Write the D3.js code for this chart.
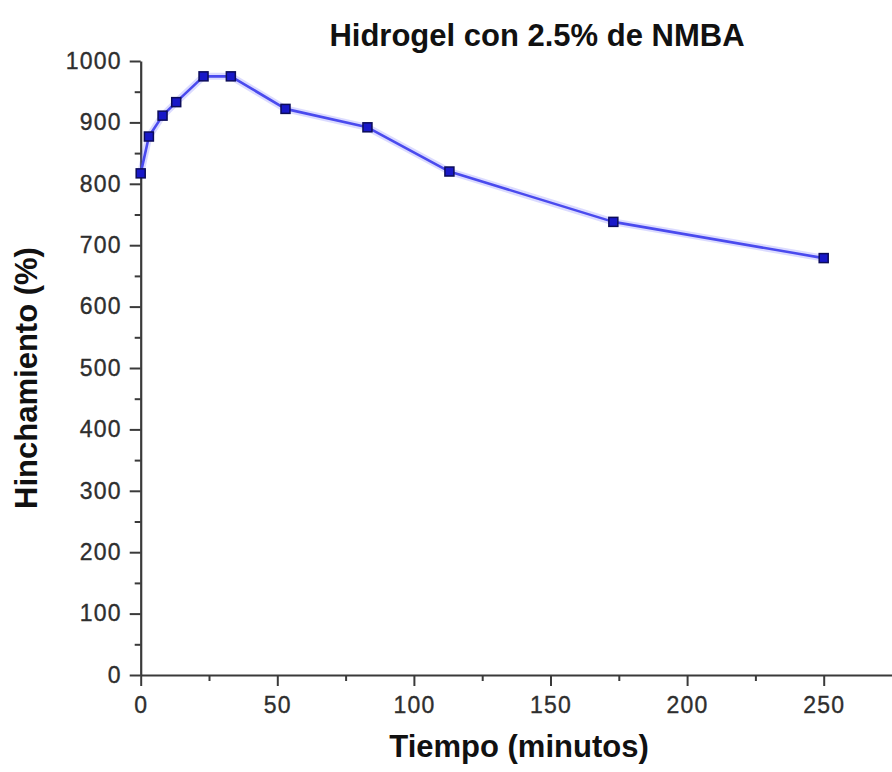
<!DOCTYPE html>
<html>
<head>
<meta charset="utf-8">
<script src="https://cdn.jsdelivr.net/npm/d3@7"></script>
<style>
  html, body { margin: 0; padding: 0; background: #fff; }
  svg { display: block; }
</style>
</head>
<body>
<svg id="chart" width="892" height="772"></svg>
<script>
const title = "Hidrogel con 2.5% de NMBA";
const xLabel = "Tiempo (minutos)";
const yLabel = "Hinchamiento (%)";
const tiempo = [0, 3, 8, 13, 23, 33, 53, 83, 113, 173, 250];
const hinchamiento = [817, 877, 911, 933, 975, 975, 922, 892, 820, 738, 679];
const xTicks = [0, 50, 100, 150, 200, 250];
const yTicks = [0, 100, 200, 300, 400, 500, 600, 700, 800, 900, 1000];

const svg = d3.select("#chart");
const margin = { left: 140.7, top: 61, bottom: 675, right: 892 };

const x = d3.scaleLinear().domain([0, 275]).range([margin.left, margin.right]);
const y = d3.scaleLinear().domain([0, 1000]).range([margin.bottom, margin.top]);

const axisColor = "#3a3a3a";
const labelColor = "#2e2e2e";

const xMinor = d3.range(25, 275, 50);
const yMinor = d3.range(50, 1000, 100);

function styleLabels(sel) {
  sel.attr("fill", labelColor).attr("stroke", labelColor).attr("stroke-width", 0.35)
    .style("font-family", "'Liberation Sans', Arial, sans-serif")
    .style("font-size", "23px").style("letter-spacing", "1.2px");
}

// X axis
const gx = svg.append("g").attr("transform", `translate(0,${margin.bottom})`)
  .call(d3.axisBottom(x).tickValues(xTicks).tickSize(11).tickSizeOuter(0).tickPadding(11).tickFormat(d3.format("d")));
gx.select(".domain").attr("stroke", axisColor).attr("stroke-width", 2.2);
gx.selectAll(".tick line").attr("stroke", axisColor).attr("stroke-width", 2);
styleLabels(gx.selectAll(".tick text"));
const gxm = svg.append("g").attr("transform", `translate(0,${margin.bottom})`)
  .call(d3.axisBottom(x).tickValues(xMinor).tickSize(6).tickFormat(""));
gxm.select(".domain").remove();
gxm.selectAll(".tick line").attr("stroke", axisColor).attr("stroke-width", 2);

// Y axis
const gy = svg.append("g").attr("transform", `translate(${margin.left},0)`)
  .call(d3.axisLeft(y).tickValues(yTicks).tickSize(11).tickSizeOuter(0).tickPadding(8).tickFormat(d3.format("d")));
gy.select(".domain").attr("stroke", axisColor).attr("stroke-width", 2.2);
gy.selectAll(".tick line").attr("stroke", axisColor).attr("stroke-width", 2);
styleLabels(gy.selectAll(".tick text"));
const gym = svg.append("g").attr("transform", `translate(${margin.left},0)`)
  .call(d3.axisLeft(y).tickValues(yMinor).tickSize(6).tickFormat(""));
gym.select(".domain").remove();
gym.selectAll(".tick line").attr("stroke", axisColor).attr("stroke-width", 2);

// data
const data = tiempo.map((t, i) => ({ t, h: hinchamiento[i] }));
const line = d3.line().x(d => x(d.t)).y(d => y(d.h));

svg.append("path").datum(data)
  .attr("d", line).attr("fill", "none")
  .attr("stroke", "rgba(110,110,255,0.25)").attr("stroke-width", 7).attr("stroke-linejoin", "round");
svg.append("path").datum(data)
  .attr("d", line).attr("fill", "none")
  .attr("stroke", "#4a4aee").attr("stroke-width", 2.6).attr("stroke-linejoin", "round");

const ms = 9;
svg.append("g").selectAll("rect").data(data).join("rect")
  .attr("x", d => x(d.t) - ms / 2).attr("y", d => y(d.h) - ms / 2)
  .attr("width", ms).attr("height", ms)
  .attr("fill", "#1818c8").attr("stroke", "#0c0c5a").attr("stroke-width", 1.5);

// titles
const bold = sel => sel.style("font-family", "'Liberation Sans', Arial, sans-serif")
  .style("font-weight", "bold").style("font-size", "31px").attr("fill", "#111");

svg.append("text").attr("x", 537).attr("y", 46).attr("text-anchor", "middle").call(bold).text(title);
svg.append("text").attr("x", 519).attr("y", 757).attr("text-anchor", "middle").call(bold).text(xLabel);
svg.append("text").attr("transform", "translate(37,378) rotate(-90)").attr("text-anchor", "middle").call(bold).text(yLabel);
</script>
</body>
</html>
